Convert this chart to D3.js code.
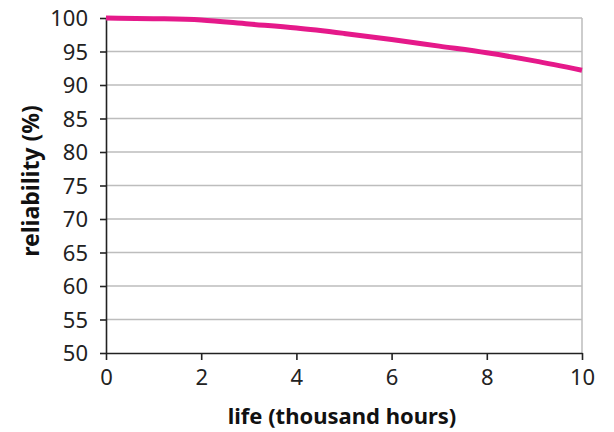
<!DOCTYPE html>
<html><head><meta charset="utf-8">
<script src="https://cdn.jsdelivr.net/npm/d3@7"></script>
<style>body{margin:0;background:#fff}svg{display:block}</style>
</head><body>
<svg id="c" width="614" height="432"></svg>
<script>
const lifeHours = [0,1,2,3,4,5,6,7,8,9,10];
const reliability = [100,99.9,99.7,99.1,98.5,97.7,96.8,95.8,94.8,93.6,92.2];
const xTicks = [0,2,4,6,8,10];
const yTicks = [50,55,60,65,70,75,80,85,90,95,100];
const xTitle = "life (thousand hours)";
const yTitle = "reliability (%)";

const svg = d3.select("#c");
const L=106, R=582, T=18, B=353;
const x = d3.scaleLinear().domain([0,10]).range([L,R]);
const y = d3.scaleLinear().domain([50,100]).range([B,T]);
const font = "'Noto Sans', 'DejaVu Sans', sans-serif";

// gridlines
svg.append("g").selectAll("line").data(yTicks.filter(d=>d>50)).join("line")
  .attr("x1",L).attr("x2",R).attr("y1",d=>y(d)).attr("y2",d=>y(d))
  .attr("stroke","#bdbdbd").attr("stroke-width",1.5);
svg.append("line").attr("x1",R).attr("x2",R).attr("y1",T).attr("y2",B)
  .attr("stroke","#bdbdbd").attr("stroke-width",1.5);

// axes
const xa = svg.append("g").attr("transform",`translate(0,${B})`)
  .call(d3.axisBottom(x).tickValues(xTicks).tickSize(7).tickPadding(14).tickSizeOuter(0));
const ya = svg.append("g").attr("transform",`translate(${L},0)`)
  .call(d3.axisLeft(y).tickValues(yTicks).tickSize(6).tickPadding(12).tickSizeOuter(0));
[xa,ya].forEach(g=>{
  g.select(".domain").attr("stroke","#222").attr("stroke-width",1.6);
  g.selectAll(".tick line").attr("stroke","#222").attr("stroke-width",1.6);
  g.selectAll(".tick text").attr("fill","#222").style("font-family",font).style("font-size","22px");
});
xa.selectAll(".tick text").attr("dy","0.5em");
ya.selectAll(".tick text").attr("dy","0.36em");

// line
svg.append("path").datum(lifeHours.map((d,i)=>[d,reliability[i]]))
  .attr("fill","none").attr("stroke","#e5198a").attr("stroke-width",5)
  .attr("d", d3.line().x(d=>x(d[0])).y(d=>y(d[1])).curve(d3.curveMonotoneX));

// titles
svg.append("text").attr("x",(L+R)/2 - 2).attr("y",424).attr("text-anchor","middle")
  .style("font-family",font).style("font-size","22px").style("font-weight","bold")
  .attr("fill","#111").text(xTitle);
svg.append("text").attr("transform",`translate(39,${181}) rotate(-90)`).attr("text-anchor","middle")
  .style("font-family",font).style("font-size","23px").style("font-weight","bold")
  .attr("fill","#111").text(yTitle);
</script>
</body></html>
